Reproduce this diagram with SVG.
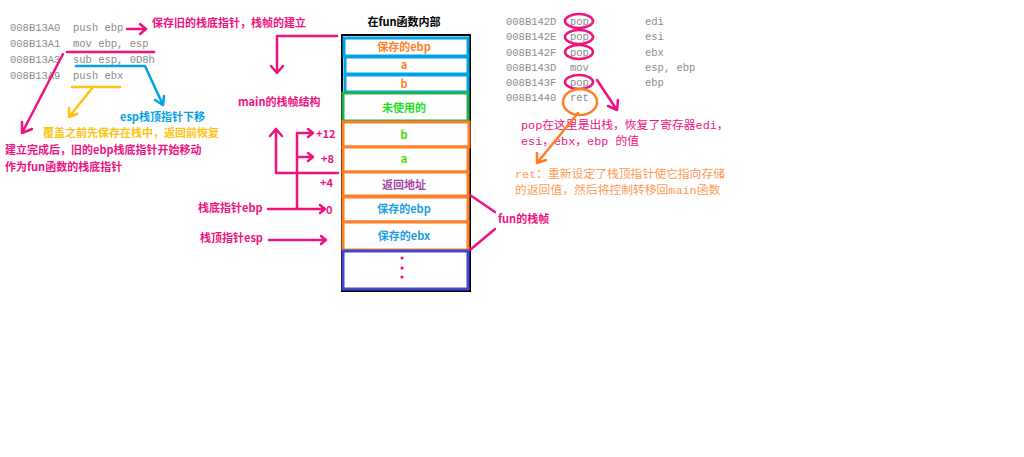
<svg xmlns="http://www.w3.org/2000/svg" width="1024" height="457" viewBox="0 0 1024 457">
<defs>
<style>
.code{font-family:"Liberation Mono","Noto Sans CJK SC",monospace;font-size:10.5px;fill:#8c8c8c}
.lbl{font-family:"Noto Sans CJK SC",sans-serif;font-size:11px;font-weight:bold}
.note{font-family:"Liberation Mono","Noto Sans CJK SC",monospace;font-size:11.8px}
.pk{fill:#f0137f}
.ln{fill:none;stroke-width:2.5;stroke-linecap:round;stroke-linejoin:round}
.pks{stroke:#f0137f}
.box{fill:#fff;stroke-width:3}
.ct{text-anchor:middle}
</style>
</defs>
<rect width="1024" height="457" fill="#fff"/>

<g id="left-code">
<text class="code" x="10" y="31">008B13A0</text><text class="code" x="73" y="31">push ebp</text>
<text class="code" x="10" y="47">008B13A1</text><text class="code" x="73" y="47">mov  ebp, esp</text>
<text class="code" x="10" y="63">008B13A3</text><text class="code" x="73" y="63">sub esp, 0D8h</text>
<text class="code" x="10" y="79">008B13A9</text><text class="code" x="73" y="79">push ebx</text>
</g>

<g id="left-notes">
<text class="lbl pk" x="152" y="27">保存旧的栈底指针，栈帧的建立</text>
<text class="lbl" x="120" y="121" fill="#00a2e8">esp栈顶指针下移</text>
<text class="lbl" x="43" y="137" fill="#ffc20e">覆盖之前先保存在栈中，返回前恢复</text>
<text class="lbl pk" x="5" y="154">建立完成后，旧的ebp栈底指针开始移动</text>
<text class="lbl pk" x="5" y="171">作为fun函数的栈底指针</text>
</g>

<g id="stack">
<text class="lbl ct" x="404" y="26" fill="#000">在fun函数内部</text>
<rect x="342" y="35" width="128" height="256" fill="#fff" stroke="#000" stroke-width="2"/>
<rect class="box" x="344" y="38" width="124" height="18" stroke="#00a2e8"/>
<rect class="box" x="345" y="57" width="123" height="17" stroke="#00a2e8"/>
<rect class="box" x="345" y="75" width="123" height="17" stroke="#00a2e8"/>
<rect class="box" x="343" y="93" width="125" height="28" stroke="#22b14c"/>
<rect class="box" x="343" y="122" width="126" height="25" stroke="#ff7f27"/>
<rect class="box" x="343" y="147" width="125" height="25" stroke="#ff7f27"/>
<rect class="box" x="343" y="172" width="125" height="24" stroke="#ff7f27"/>
<rect class="box" x="343" y="197" width="125" height="25" stroke="#ff7f27"/>
<rect class="box" x="343" y="222" width="125" height="28" stroke="#ff7f27"/>
<rect class="box" x="343" y="251" width="125" height="38" stroke="#3f48cc"/>
<text class="lbl ct" x="404" y="51" fill="#ff7f27">保存的ebp</text>
<text class="lbl ct" x="404" y="69" fill="#ff7f27">a</text>
<text class="lbl ct" x="404" y="88" fill="#ff7f27">b</text>
<text class="lbl ct" x="404" y="112" fill="#22dd22">未使用的</text>
<text class="lbl ct" x="404" y="139" fill="#44dd00">b</text>
<text class="lbl ct" x="404" y="163" fill="#44dd00">a</text>
<text class="lbl ct" x="404" y="189" fill="#a349a4">返回地址</text>
<text class="lbl ct" x="404" y="213" fill="#1e9fe0">保存的ebp</text>
<text class="lbl ct" x="404" y="240" fill="#1e9fe0">保存的ebx</text>
<circle cx="402" cy="258" r="1.6" class="pk"/>
<circle cx="402" cy="268" r="1.6" class="pk"/>
<circle cx="402" cy="277" r="1.6" class="pk"/>
</g>

<g id="stack-labels">
<text class="lbl pk" x="238" y="106">main的栈帧结构</text>
<text class="lbl pk" x="316" y="138">+12</text>
<text class="lbl pk" x="321" y="163">+8</text>
<text class="lbl pk" x="320" y="187">+4</text>
<text class="lbl pk" x="326" y="214">0</text>
<text class="lbl pk" x="198" y="212">栈底指针ebp</text>
<text class="lbl pk" x="200" y="242">栈顶指针esp</text>
<text class="lbl pk" x="498" y="223">fun的栈帧</text>
</g>

<g id="right-code">
<text class="code" x="506" y="25">008B142D</text><text class="code" x="570" y="25">pop</text><text class="code" x="645" y="25">edi</text>
<text class="code" x="506" y="40">008B142E</text><text class="code" x="570" y="40">pop</text><text class="code" x="645" y="40">esi</text>
<text class="code" x="506" y="56">008B142F</text><text class="code" x="570" y="56">pop</text><text class="code" x="645" y="56">ebx</text>
<text class="code" x="506" y="71">008B143D</text><text class="code" x="570" y="71">mov</text><text class="code" x="645" y="71">esp, ebp</text>
<text class="code" x="506" y="86">008B143F</text><text class="code" x="570" y="86">pop</text><text class="code" x="645" y="86">ebp</text>
<text class="code" x="506" y="101">008B1440</text><text class="code" x="570" y="101">ret</text>
</g>

<g id="right-notes">
<text class="note" x="521" y="129" fill="#f0137f">pop在这里是出栈，恢复了寄存器edi，</text>
<text class="note" x="521" y="145" fill="#f0137f">esi，ebx，ebp 的值</text>
<text class="note" x="515" y="178" fill="#ff9a55">ret：重新设定了栈顶指针使它指向存储</text>
<text class="note" x="515" y="194" fill="#ff9a55">的返回值，然后将控制转移回main函数</text>
</g>

<g id="connectors">
<path class="ln pks" d="M127 29 H146 M140 24 L146 29 L140 34"/>
<path class="ln pks" d="M67 52 H154 M63 54 L22 133 M22 122 L22 133 L32 129"/>
<path class="ln" stroke="#00a2e8" d="M76 66 H145 L163 105 M155 100 L163 105 L164 96"/>
<path class="ln" stroke="#ffc20e" d="M72 87 H120 M93 87 L69 117 M69 108 L69 117 L77 114"/>
<path class="ln pks" d="M337 36 H277 V73 M271 66 L277 73 L283 66"/>
<path class="ln pks" d="M338 173 H276 V129 M270 136 L276 129 L282 136"/>
<path class="ln pks" d="M297 208 V133 H313 M308 129 L313 133 L308 137 M297 157 H313 M308 153 L313 157 L308 161"/>
<path class="ln pks" d="M268 209 H325 M320 205 L325 209 L320 213"/>
<path class="ln pks" d="M269 240 H326 M321 236 L326 240 L321 244"/>
<path class="ln pks" d="M470 195 L495 212 M470 250 L495 229"/>
<ellipse class="ln pks" cx="579" cy="21" rx="14" ry="7"/>
<ellipse class="ln pks" cx="579" cy="37" rx="14" ry="7"/>
<ellipse class="ln pks" cx="579" cy="52" rx="14" ry="7"/>
<ellipse class="ln pks" cx="579" cy="82" rx="14" ry="7"/>
<ellipse class="ln" stroke="#ff7f27" cx="580" cy="102" rx="17" ry="13"/>
<path class="ln pks" d="M597 80 L617 110 M608 106 L617 110 L618 100"/>
<path class="ln" stroke="#ff7f27" d="M578 113 L537 163 M537 153 L537 163 L546 160"/>
</g>
</svg>
